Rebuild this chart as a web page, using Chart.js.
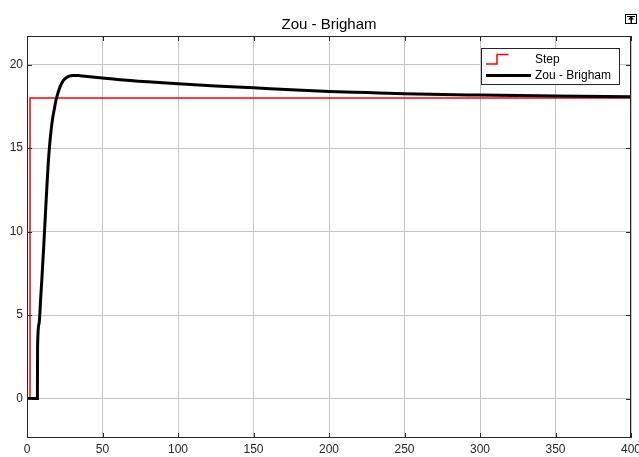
<!DOCTYPE html>
<html>
<head>
<meta charset="utf-8">
<script src="https://cdn.jsdelivr.net/npm/chart.js@4.4.1/dist/chart.umd.min.js"></script>
<style>
  html, body { margin: 0; padding: 0; background: #fff; }
  #wrap { width: 639px; height: 457px; position: relative; }
</style>
</head>
<body>
<div id="wrap"><canvas id="c" width="639" height="457"></canvas></div>
<script>
const chartTitle = "Zou - Brigham";
const stepLabel = "Step";
const respLabel = "Zou - Brigham";

const stepTime = [0, 2, 2, 400];
const stepValue = [0, 0, 18, 18];

const respTime = [0, 6.9, 7.0, 8, 9, 10, 11, 12, 13, 14, 15, 16, 17, 18, 19, 20, 22, 24, 26, 28, 30, 32, 35, 40, 50, 60, 80, 100, 125, 150, 175, 200, 225, 250, 300, 350, 400];
const respValue = [0, 0, 3.1, 4.5, 5.9, 7.4, 9.0, 10.7, 12.4, 14.0, 15.2, 16.1, 16.8, 17.3, 17.8, 18.15, 18.7, 19.05, 19.22, 19.32, 19.36, 19.36, 19.34, 19.30, 19.21, 19.12, 18.98, 18.86, 18.73, 18.62, 18.50, 18.40, 18.33, 18.26, 18.18, 18.12, 18.08];

const xTicks = [0, 50, 100, 150, 200, 250, 300, 350, 400];
const yTicks = [0, 5, 10, 15, 20];

const FONT = "'Liberation Sans', Arial, Helvetica, sans-serif";

function pts(xs, ys) { return xs.map((x, i) => ({ x: x, y: ys[i] })); }

const decorPlugin = {
  id: 'decor',
  afterDraw(chart) {
    const ctx = chart.ctx;
    const a = chart.chartArea;
    const xs = chart.scales.x, ys = chart.scales.y;
    ctx.save();
    ctx.strokeStyle = '#262626';
    ctx.lineWidth = 1;
    const tl = 5;
    xTicks.forEach(v => {
      const px = Math.round(xs.getPixelForValue(v)) + 0.5;
      ctx.beginPath();
      ctx.moveTo(px, a.bottom); ctx.lineTo(px, a.bottom - tl);
      ctx.moveTo(px, a.top); ctx.lineTo(px, a.top + tl);
      ctx.stroke();
    });
    yTicks.forEach(v => {
      const py = Math.round(ys.getPixelForValue(v)) + 0.5;
      ctx.beginPath();
      ctx.moveTo(a.left, py); ctx.lineTo(a.left + tl, py);
      ctx.moveTo(a.right, py); ctx.lineTo(a.right - tl, py);
      ctx.stroke();
    });
    ctx.strokeStyle = '#262626';
    ctx.strokeRect(Math.round(a.left) + 0.5, Math.round(a.top) + 0.5,
                   Math.round(a.right - a.left) - 1, Math.round(a.bottom - a.top) - 1);
    ctx.fillStyle = '#000';
    ctx.font = '15px ' + FONT;
    ctx.textAlign = 'center';
    ctx.textBaseline = 'alphabetic';
    ctx.fillText(chartTitle, (a.left + a.right) / 2, 29);
    const lx = 481.5, ly = 48.5, lw = 138, lh = 36;
    ctx.fillStyle = '#fff';
    ctx.fillRect(lx, ly, lw, lh);
    ctx.strokeStyle = '#262626';
    ctx.lineWidth = 1;
    ctx.strokeRect(lx, ly, lw, lh);
    ctx.strokeStyle = '#ff0000';
    ctx.lineWidth = 1.5;
    ctx.beginPath();
    ctx.moveTo(486, 64); ctx.lineTo(497, 64); ctx.lineTo(497, 54.5); ctx.lineTo(508.5, 54.5);
    ctx.stroke();
    ctx.strokeStyle = '#000';
    ctx.lineWidth = 3;
    ctx.beginPath();
    ctx.moveTo(486, 75.5); ctx.lineTo(531, 75.5);
    ctx.stroke();
    ctx.fillStyle = '#000';
    ctx.font = '12px ' + FONT;
    ctx.textAlign = 'left';
    ctx.textBaseline = 'middle';
    ctx.fillText(stepLabel, 535, 60);
    ctx.fillText(respLabel, 535, 76);
    ctx.strokeStyle = '#000';
    ctx.lineWidth = 1;
    ctx.strokeRect(625.5, 14.5, 11, 9);
    ctx.fillStyle = '#000';
    ctx.beginPath();
    ctx.moveTo(631, 16); ctx.lineTo(634, 19.5); ctx.lineTo(628, 19.5); ctx.closePath();
    ctx.fill();
    ctx.fillRect(630.5, 19, 1.5, 4);
    ctx.beginPath();
    ctx.moveTo(627, 16.5); ctx.lineTo(635, 16.5);
    ctx.stroke();
    ctx.restore();
  }
};

new Chart(document.getElementById('c'), {
  type: 'line',
  data: {
    datasets: [
      {
        label: stepLabel,
        data: pts(stepTime, stepValue),
        borderColor: '#ff0000',
        borderWidth: 1.5,
        pointRadius: 0,
        fill: false,
        tension: 0,
        order: 2
      },
      {
        label: respLabel,
        data: pts(respTime, respValue),
        borderColor: '#000000',
        borderWidth: 3,
        pointRadius: 0,
        fill: false,
        cubicInterpolationMode: 'monotone',
        order: 1
      }
    ]
  },
  options: {
    responsive: false,
    animation: false,
    devicePixelRatio: 1,
    layout: { padding: { top: 36, right: 8, left: 0, bottom: 0 } },
    plugins: {
      legend: { display: false },
      title: { display: false },
      tooltip: { enabled: false }
    },
    scales: {
      x: {
        type: 'linear',
        min: 0,
        max: 400,
        afterFit(s) { s.height = 19; s.paddingLeft = 0; s.paddingRight = 0; },
        afterBuildTicks(s) { s.ticks = xTicks.map(v => ({ value: v })); },
        ticks: {
          autoSkip: false,
          maxRotation: 0,
          padding: 4,
          color: '#262626',
          font: { family: FONT, size: 12 }
        },
        grid: { color: '#c4c4c4', lineWidth: 1, drawTicks: false },
        border: { display: false }
      },
      y: {
        type: 'linear',
        min: -2.36,
        max: 21.72,
        afterFit(s) { s.width = 27; },
        afterBuildTicks(s) { s.ticks = yTicks.map(v => ({ value: v })); },
        ticks: {
          autoSkip: false,
          padding: 4,
          color: '#262626',
          font: { family: FONT, size: 12 }
        },
        grid: { color: '#c4c4c4', lineWidth: 1, drawTicks: false },
        border: { display: false }
      }
    }
  },
  plugins: [decorPlugin]
});
</script>
</body>
</html>
